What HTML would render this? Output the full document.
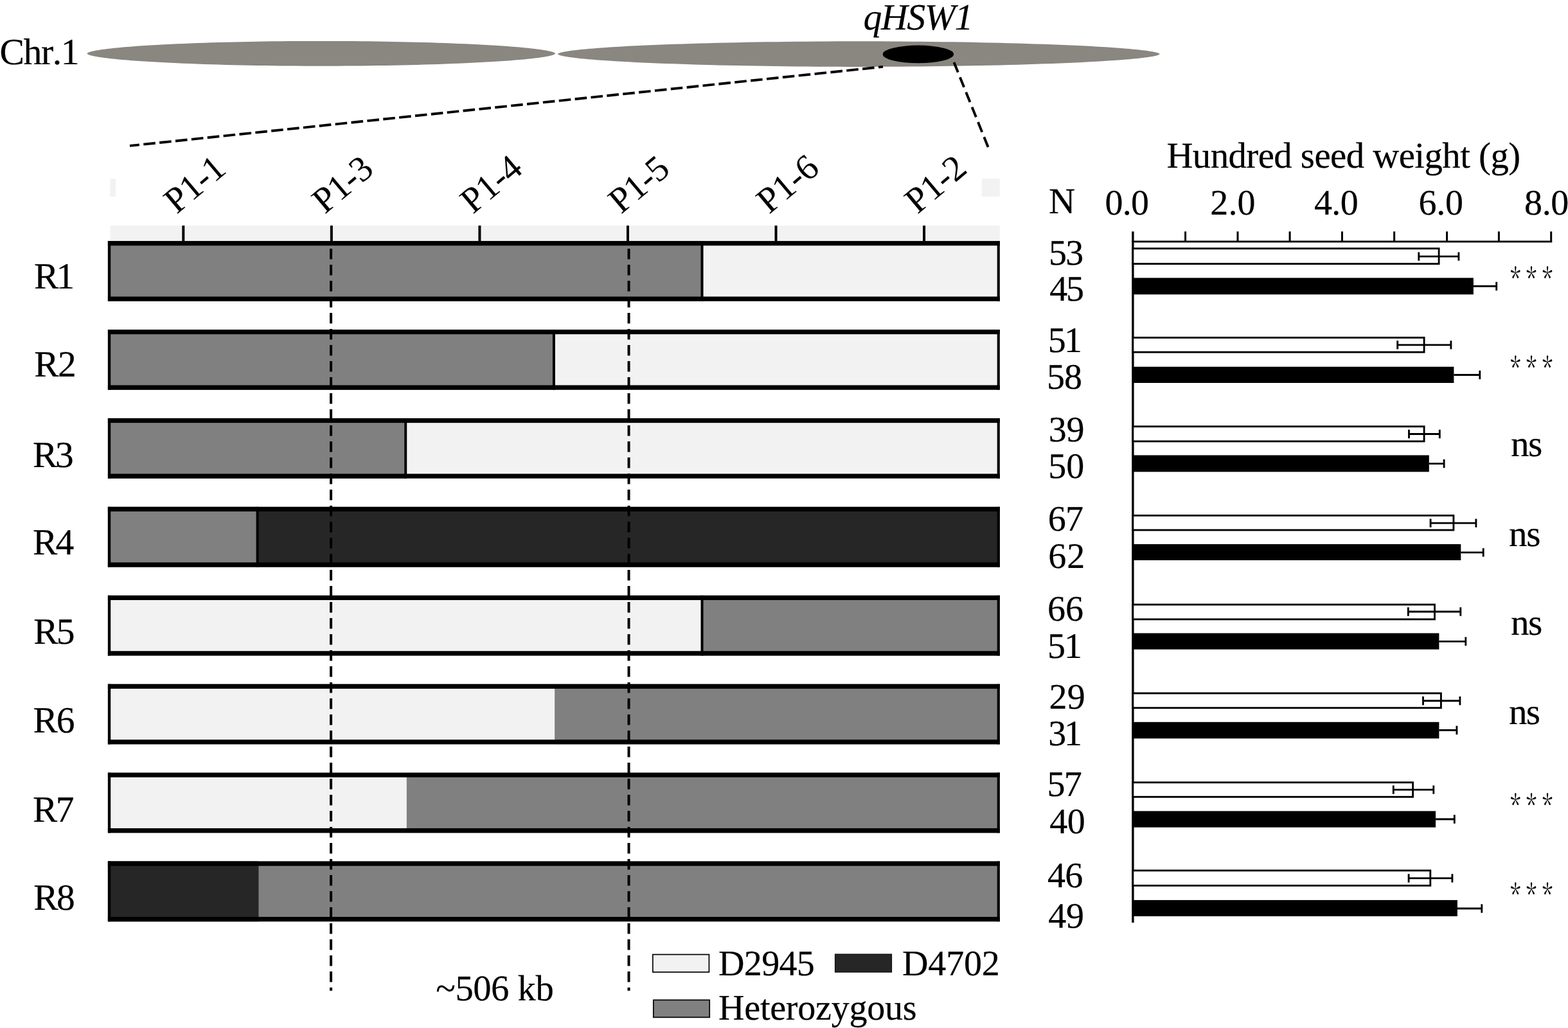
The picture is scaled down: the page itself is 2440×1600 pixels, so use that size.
<!DOCTYPE html>
<html lang="en"><head><meta charset="utf-8"><title>Fine mapping of qHSW1 on Chr.1</title>
<style>
html,body{margin:0;padding:0;background:#fff;}
body{width:2440px;height:1600px;overflow:hidden;}
svg{display:block;}
svg text{font-family:"Liberation Serif","DejaVu Serif",serif;fill:#000;stroke:#000;stroke-width:0.2px;font-kerning:none;white-space:pre;text-rendering:geometricPrecision;}
svg text.ast{font-family:"Noto Serif CJK SC","Liberation Serif",serif;stroke-width:0;}
svg text.rot{stroke-width:0.05px;}
</style></head><body>
<svg width="2440" height="1600" viewBox="0 0 2440 1600">
<rect width="2440" height="1600" fill="#fff"/>
<path d="M135.6 83.30L135.8 82.80L136.5 82.24L137.6 81.65L139.1 81.04L141.1 80.42L143.6 79.80L146.4 79.17L149.7 78.54L153.4 77.91L157.6 77.28L162.1 76.65L167.1 76.02L172.5 75.40L178.2 74.79L184.4 74.19L190.9 73.59L197.9 73.00L205.2 72.43L212.8 71.87L220.8 71.32L229.1 70.78L237.8 70.26L246.8 69.75L256.1 69.26L265.7 68.79L275.6 68.34L285.7 67.90L296.1 67.49L306.8 67.09L317.7 66.72L328.8 66.36L340.1 66.03L351.7 65.72L363.4 65.43L375.2 65.17L387.3 64.93L399.4 64.72L411.7 64.53L424.1 64.36L436.6 64.22L449.1 64.11L461.7 64.02L474.4 63.95L487.1 63.91L499.8 63.90L512.5 63.91L525.2 63.95L537.9 64.02L550.5 64.11L563.0 64.22L575.5 64.36L587.9 64.53L600.2 64.72L612.3 64.93L624.4 65.17L636.2 65.43L647.9 65.72L659.5 66.03L670.8 66.36L681.9 66.72L692.8 67.09L703.5 67.49L713.9 67.90L724.0 68.34L733.9 68.79L743.5 69.26L752.8 69.75L761.8 70.26L770.5 70.78L778.8 71.32L786.8 71.87L794.4 72.43L801.7 73.00L808.7 73.59L815.2 74.19L821.4 74.79L827.1 75.40L832.5 76.02L837.5 76.65L842.0 77.28L846.2 77.91L849.9 78.54L853.2 79.17L856.0 79.80L858.5 80.42L860.5 81.04L862.0 81.65L863.1 82.24L863.8 82.80L864.0 83.30L863.8 83.80L863.1 84.36L862.0 84.95L860.5 85.56L858.5 86.18L856.0 86.80L853.2 87.43L849.9 88.06L846.2 88.69L842.0 89.32L837.5 89.95L832.5 90.58L827.1 91.20L821.4 91.81L815.2 92.41L808.7 93.01L801.7 93.60L794.4 94.17L786.8 94.73L778.8 95.28L770.5 95.82L761.8 96.34L752.8 96.85L743.5 97.34L733.9 97.81L724.0 98.26L713.9 98.70L703.5 99.11L692.8 99.51L681.9 99.88L670.8 100.24L659.5 100.57L647.9 100.88L636.2 101.17L624.4 101.43L612.3 101.67L600.2 101.88L587.9 102.07L575.5 102.24L563.0 102.38L550.5 102.49L537.9 102.58L525.2 102.65L512.5 102.69L499.8 102.70L487.1 102.69L474.4 102.65L461.7 102.58L449.1 102.49L436.6 102.38L424.1 102.24L411.7 102.07L399.4 101.88L387.3 101.67L375.2 101.43L363.4 101.17L351.7 100.88L340.1 100.57L328.8 100.24L317.7 99.88L306.8 99.51L296.1 99.11L285.7 98.70L275.6 98.26L265.7 97.81L256.1 97.34L246.8 96.85L237.8 96.34L229.1 95.82L220.8 95.28L212.8 94.73L205.2 94.17L197.9 93.60L190.9 93.01L184.4 92.41L178.2 91.81L172.5 91.20L167.1 90.58L162.1 89.95L157.6 89.32L153.4 88.69L149.7 88.06L146.4 87.43L143.6 86.80L141.1 86.18L139.1 85.56L137.6 84.95L136.5 84.36L135.8 83.80Z" fill="#8a8680"/>
<path d="M868.1 84.10L868.4 83.59L869.2 83.01L870.7 82.41L872.7 81.79L875.2 81.16L878.3 80.53L882.0 79.88L886.2 79.24L891.0 78.60L896.3 77.95L902.2 77.31L908.6 76.67L915.5 76.04L922.9 75.42L930.8 74.80L939.2 74.19L948.1 73.59L957.5 73.01L967.4 72.43L977.6 71.87L988.4 71.32L999.5 70.79L1011.1 70.27L1023.0 69.77L1035.3 69.29L1048.0 68.83L1061.1 68.38L1074.5 67.96L1088.2 67.56L1102.2 67.17L1116.5 66.81L1131.1 66.47L1145.9 66.16L1160.9 65.87L1176.2 65.60L1191.6 65.35L1207.2 65.13L1223.0 64.94L1239.0 64.77L1255.0 64.63L1271.1 64.51L1287.4 64.42L1303.6 64.35L1320.0 64.31L1336.3 64.30L1352.6 64.31L1369.0 64.35L1385.2 64.42L1401.5 64.51L1417.6 64.63L1433.6 64.77L1449.6 64.94L1465.4 65.13L1481.0 65.35L1496.4 65.60L1511.7 65.87L1526.7 66.16L1541.5 66.47L1556.1 66.81L1570.4 67.17L1584.4 67.56L1598.1 67.96L1611.5 68.38L1624.6 68.83L1637.3 69.29L1649.6 69.77L1661.5 70.27L1673.1 70.79L1684.2 71.32L1695.0 71.87L1705.2 72.43L1715.1 73.01L1724.5 73.59L1733.4 74.19L1741.8 74.80L1749.7 75.42L1757.1 76.04L1764.0 76.67L1770.4 77.31L1776.3 77.95L1781.6 78.60L1786.4 79.24L1790.6 79.88L1794.3 80.53L1797.4 81.16L1799.9 81.79L1801.9 82.41L1803.4 83.01L1804.2 83.59L1804.5 84.10L1804.2 84.61L1803.4 85.19L1801.9 85.79L1799.9 86.41L1797.4 87.04L1794.3 87.67L1790.6 88.32L1786.4 88.96L1781.6 89.60L1776.3 90.25L1770.4 90.89L1764.0 91.53L1757.1 92.16L1749.7 92.78L1741.8 93.40L1733.4 94.01L1724.5 94.61L1715.1 95.19L1705.2 95.77L1695.0 96.33L1684.2 96.88L1673.1 97.41L1661.5 97.93L1649.6 98.43L1637.3 98.91L1624.6 99.37L1611.5 99.82L1598.1 100.24L1584.4 100.64L1570.4 101.03L1556.1 101.39L1541.5 101.73L1526.7 102.04L1511.7 102.33L1496.4 102.60L1481.0 102.85L1465.4 103.07L1449.6 103.26L1433.6 103.43L1417.6 103.57L1401.5 103.69L1385.2 103.78L1369.0 103.85L1352.6 103.89L1336.3 103.90L1320.0 103.89L1303.6 103.85L1287.4 103.78L1271.1 103.69L1255.0 103.57L1239.0 103.43L1223.0 103.26L1207.2 103.07L1191.6 102.85L1176.2 102.60L1160.9 102.33L1145.9 102.04L1131.1 101.73L1116.5 101.39L1102.2 101.03L1088.2 100.64L1074.5 100.24L1061.1 99.82L1048.0 99.37L1035.3 98.91L1023.0 98.43L1011.1 97.93L999.5 97.41L988.4 96.88L977.6 96.33L967.4 95.77L957.5 95.19L948.1 94.61L939.2 94.01L930.8 93.40L922.9 92.78L915.5 92.16L908.6 91.53L902.2 90.89L896.3 90.25L891.0 89.60L886.2 88.96L882.0 88.32L878.3 87.67L875.2 87.04L872.7 86.41L870.7 85.79L869.2 85.19L868.4 84.61Z" fill="#8a8680"/>
<ellipse cx="1428.9" cy="84.4" rx="55.2" ry="13.8" fill="#000"/>
<text x="-0.61 36.50 63.95 81.73 94.80" y="99.6" font-size="57.7">Chr.1</text>
<text x="1343.52" y="45.90" font-size="57.7" letter-spacing="-1.349" font-style="italic">qHSW1</text>
<line x1="202" y1="226.9" x2="1374" y2="103.9" stroke="#000" stroke-width="3.9" stroke-dasharray="18.6 6.4" stroke-dashoffset="3.6"/>
<line x1="1484.5" y1="96.9" x2="1538.4" y2="230.9" stroke="#000" stroke-width="3.9" stroke-dasharray="16.8 8.3"/>
<rect x="171.4" y="351.1" width="1384.4" height="26" fill="#f2f2f2"/>
<rect x="171.4" y="278" width="8.7" height="28" fill="#f2f2f2"/>
<rect x="1527.6" y="278" width="28.2" height="28" fill="#f2f2f2"/>
<rect x="283.30" y="351.1" width="4" height="31" fill="#000"/>
<text transform="translate(274.90,333.9) rotate(-40)" x="0" y="0" font-size="56" letter-spacing="-0.7" class="rot">P1-1</text>
<rect x="513.85" y="351.1" width="4" height="31" fill="#000"/>
<text transform="translate(505.45,333.9) rotate(-40)" x="0" y="0" font-size="56" letter-spacing="-1.0" class="rot">P1-3</text>
<rect x="744.40" y="351.1" width="4" height="31" fill="#000"/>
<text transform="translate(736.00,333.9) rotate(-40)" x="0" y="0" font-size="56" letter-spacing="-0.4" class="rot">P1-4</text>
<rect x="974.95" y="351.1" width="4" height="31" fill="#000"/>
<text transform="translate(966.55,333.9) rotate(-40)" x="0" y="0" font-size="56" letter-spacing="-1.0" class="rot">P1-5</text>
<rect x="1205.50" y="351.1" width="4" height="31" fill="#000"/>
<text transform="translate(1197.10,333.9) rotate(-40)" x="0" y="0" font-size="56" letter-spacing="-0.2" class="rot">P1-6</text>
<rect x="1436.05" y="351.1" width="4" height="31" fill="#000"/>
<text transform="translate(1427.65,333.9) rotate(-40)" x="0" y="0" font-size="56" letter-spacing="-0.5" class="rot">P1-2</text>
<rect x="167.90" y="375.10" width="1387.90" height="93.70" fill="#f2f2f2"/>
<rect x="167.90" y="375.10" width="924.60" height="93.70" fill="#808080"/>
<rect x="167.90" y="375.10" width="1387.90" height="7.2" fill="#000"/>
<rect x="167.90" y="461.60" width="1387.90" height="7.2" fill="#000"/>
<rect x="167.90" y="375.10" width="4.3" height="93.70" fill="#000"/>
<rect x="1551.70" y="375.10" width="4.1" height="93.70" fill="#000"/>
<rect x="1090.50" y="375.10" width="4" height="93.70" fill="#000"/>
<text x="52.88" y="449.40" font-size="57.5" letter-spacing="-3.756">R1</text>
<rect x="167.90" y="513.02" width="1387.90" height="93.70" fill="#f2f2f2"/>
<rect x="167.90" y="513.02" width="694.00" height="93.70" fill="#808080"/>
<rect x="167.90" y="513.02" width="1387.90" height="7.2" fill="#000"/>
<rect x="167.90" y="599.52" width="1387.90" height="7.2" fill="#000"/>
<rect x="167.90" y="513.02" width="4.3" height="93.70" fill="#000"/>
<rect x="1551.70" y="513.02" width="4.1" height="93.70" fill="#000"/>
<rect x="859.90" y="513.02" width="4" height="93.70" fill="#000"/>
<text x="53.18" y="586.20" font-size="57.5" letter-spacing="-1.644">R2</text>
<rect x="167.90" y="650.94" width="1387.90" height="93.70" fill="#f2f2f2"/>
<rect x="167.90" y="650.94" width="463.30" height="93.70" fill="#808080"/>
<rect x="167.90" y="650.94" width="1387.90" height="7.2" fill="#000"/>
<rect x="167.90" y="737.44" width="1387.90" height="7.2" fill="#000"/>
<rect x="167.90" y="650.94" width="4.3" height="93.70" fill="#000"/>
<rect x="1551.70" y="650.94" width="4.1" height="93.70" fill="#000"/>
<rect x="629.20" y="650.94" width="4" height="93.70" fill="#000"/>
<text x="51.08" y="727.40" font-size="57.5" letter-spacing="-3.306">R3</text>
<rect x="167.90" y="788.86" width="1387.90" height="93.70" fill="#262626"/>
<rect x="167.90" y="788.86" width="232.70" height="93.70" fill="#808080"/>
<rect x="167.90" y="788.86" width="1387.90" height="7.2" fill="#000"/>
<rect x="167.90" y="875.36" width="1387.90" height="7.2" fill="#000"/>
<rect x="167.90" y="788.86" width="4.3" height="93.70" fill="#000"/>
<rect x="1551.70" y="788.86" width="4.1" height="93.70" fill="#000"/>
<rect x="398.60" y="788.86" width="4" height="93.70" fill="#000"/>
<text x="51.08" y="863.40" font-size="57.5" letter-spacing="-3.044">R4</text>
<rect x="167.90" y="926.78" width="1387.90" height="93.70" fill="#808080"/>
<rect x="167.90" y="926.78" width="924.60" height="93.70" fill="#f2f2f2"/>
<rect x="167.90" y="926.78" width="1387.90" height="7.2" fill="#000"/>
<rect x="167.90" y="1013.28" width="1387.90" height="7.2" fill="#000"/>
<rect x="167.90" y="926.78" width="4.3" height="93.70" fill="#000"/>
<rect x="1551.70" y="926.78" width="4.1" height="93.70" fill="#000"/>
<rect x="1090.50" y="926.78" width="4" height="93.70" fill="#000"/>
<text x="52.27" y="1001.70" font-size="57.5" letter-spacing="-2.806">R5</text>
<rect x="167.90" y="1064.70" width="1387.90" height="93.70" fill="#808080"/>
<rect x="167.90" y="1064.70" width="695.20" height="93.70" fill="#f2f2f2"/>
<rect x="167.90" y="1064.70" width="1387.90" height="7.2" fill="#000"/>
<rect x="167.90" y="1151.20" width="1387.90" height="7.2" fill="#000"/>
<rect x="167.90" y="1064.70" width="4.3" height="93.70" fill="#000"/>
<rect x="1551.70" y="1064.70" width="4.1" height="93.70" fill="#000"/>
<text x="51.48" y="1139.80" font-size="57.5" letter-spacing="-2.181">R6</text>
<rect x="167.90" y="1202.62" width="1387.90" height="93.70" fill="#808080"/>
<rect x="167.90" y="1202.62" width="464.90" height="93.70" fill="#f2f2f2"/>
<rect x="167.90" y="1202.62" width="1387.90" height="7.2" fill="#000"/>
<rect x="167.90" y="1289.12" width="1387.90" height="7.2" fill="#000"/>
<rect x="167.90" y="1202.62" width="4.3" height="93.70" fill="#000"/>
<rect x="1551.70" y="1202.62" width="4.1" height="93.70" fill="#000"/>
<text x="51.08" y="1278.90" font-size="57.5" letter-spacing="-2.681">R7</text>
<rect x="167.90" y="1340.54" width="1387.90" height="93.70" fill="#808080"/>
<rect x="167.90" y="1340.54" width="234.50" height="93.70" fill="#262626"/>
<rect x="167.90" y="1340.54" width="1387.90" height="7.2" fill="#000"/>
<rect x="167.90" y="1427.04" width="1387.90" height="7.2" fill="#000"/>
<rect x="167.90" y="1340.54" width="4.3" height="93.70" fill="#000"/>
<rect x="1551.70" y="1340.54" width="4.1" height="93.70" fill="#000"/>
<text x="52.27" y="1415.50" font-size="57.5" letter-spacing="-2.550">R8</text>
<g stroke="#000" stroke-width="4" stroke-dasharray="16.6 8.4">
<line x1="515.05" y1="387" x2="515.05" y2="1542"/>
<line x1="978.5" y1="387" x2="978.5" y2="1542"/>
</g>
<text x="678.35" y="1557.30" font-size="56.5" letter-spacing="-0.435">~506 kb</text>
<rect x="1015.8" y="1485.6" width="87.6" height="27.4" fill="#f2f2f2" stroke="#000" stroke-width="1.7"/>
<rect x="1299.6" y="1485.2" width="87.8" height="27.8" fill="#262626" stroke="#111" stroke-width="1.4"/>
<rect x="1016.8" y="1556.4" width="87.4" height="27" fill="#808080" stroke="#000" stroke-width="1.7"/>
<text x="1118.12" y="1518.30" font-size="56" letter-spacing="-0.685">D2945</text>
<text x="1404.02" y="1518.30" font-size="56" letter-spacing="-0.150">D4702</text>
<text x="1118.12" y="1586.80" font-size="56" letter-spacing="-0.240">Heterozygous</text>
<text x="1815.40" y="261.40" font-size="56.8" letter-spacing="-0.559">Hundred seed weight (g)</text>
<text x="1631.99" y="332.20" font-size="57" letter-spacing="0.000">N</text>
<text x="1719.60" y="333.60" font-size="56" letter-spacing="-0.750">0.0</text>
<text x="1883.28" y="333.60" font-size="56" letter-spacing="0.160">2.0</text>
<text x="2044.88" y="333.60" font-size="56" letter-spacing="-0.590">4.0</text>
<text x="2207.62" y="333.60" font-size="56" letter-spacing="-0.360">6.0</text>
<text x="2372.00" y="333.60" font-size="56" letter-spacing="-0.350">8.0</text>
<rect x="1761.20" y="374.6" width="654.00" height="2.85" fill="#000"/>
<rect x="1761.20" y="360.3" width="3.4" height="1075.70" fill="#000"/>
<rect x="1843.10" y="360.3" width="3" height="16" fill="#000"/>
<rect x="1924.50" y="360.3" width="3" height="16" fill="#000"/>
<rect x="2005.60" y="360.3" width="3" height="16" fill="#000"/>
<rect x="2087.00" y="360.3" width="3" height="16" fill="#000"/>
<rect x="2168.15" y="360.3" width="3" height="16" fill="#000"/>
<rect x="2250.10" y="360.3" width="3" height="16" fill="#000"/>
<rect x="2330.90" y="360.3" width="3" height="16" fill="#000"/>
<rect x="2412.20" y="360.3" width="3" height="16" fill="#000"/>
<rect x="1762.90" y="386.80" width="476.20" height="23.80" fill="#fff" stroke="#000" stroke-width="2.85"/>
<rect x="1762.90" y="432.50" width="530.00" height="25.80" fill="#000"/>
<path d="M2207.8 392.4V405.8M2207.8 399.1H2269.9M2269.9 392.4V405.8" stroke="#000" stroke-width="2.85" fill="none"/>
<path d="M2292.9 445.5H2328.7M2328.7 438.8V452.2" stroke="#000" stroke-width="2.85" fill="none"/>
<text class="ast" transform="translate(2350.30,450.67) scale(0.838,1.125)" x="0" y="0" font-size="40" letter-spacing="10.47">***</text>
<rect x="1762.90" y="525.50" width="453.20" height="22.60" fill="#fff" stroke="#000" stroke-width="2.85"/>
<rect x="1762.90" y="570.80" width="499.50" height="25.20" fill="#000"/>
<path d="M2174.7 530.2V543.6M2174.7 536.9H2257.9M2257.9 530.2V543.6" stroke="#000" stroke-width="2.85" fill="none"/>
<path d="M2262.4 583.5H2302.8M2302.8 576.8V590.2" stroke="#000" stroke-width="2.85" fill="none"/>
<text class="ast" transform="translate(2350.30,589.98) scale(0.838,1.125)" x="0" y="0" font-size="40" letter-spacing="10.47">***</text>
<rect x="1762.90" y="663.80" width="453.20" height="23.10" fill="#fff" stroke="#000" stroke-width="2.85"/>
<rect x="1762.90" y="708.50" width="460.90" height="25.90" fill="#000"/>
<path d="M2192.5 668.8V682.2M2192.5 675.5H2240.3M2240.3 668.8V682.2" stroke="#000" stroke-width="2.85" fill="none"/>
<path d="M2223.8 721.6H2247.1M2247.1 714.9V728.3" stroke="#000" stroke-width="2.85" fill="none"/>
<text x="2351.01" y="710.00" font-size="57.2" letter-spacing="-1.476">ns</text>
<rect x="1762.90" y="802.35" width="499.00" height="22.65" fill="#fff" stroke="#000" stroke-width="2.85"/>
<rect x="1762.90" y="846.90" width="510.40" height="25.10" fill="#000"/>
<path d="M2226.1 807.4V820.8M2226.1 814.1H2296.9M2296.9 807.4V820.8" stroke="#000" stroke-width="2.85" fill="none"/>
<path d="M2273.3 859.9H2308.2M2308.2 853.2V866.6" stroke="#000" stroke-width="2.85" fill="none"/>
<text x="2348.11" y="850.20" font-size="57.2" letter-spacing="-1.576">ns</text>
<rect x="1762.90" y="941.00" width="469.60" height="22.90" fill="#fff" stroke="#000" stroke-width="2.85"/>
<rect x="1762.90" y="985.50" width="476.50" height="25.25" fill="#000"/>
<path d="M2191.3 945.3V958.7M2191.3 952.0H2272.8M2272.8 945.3V958.7" stroke="#000" stroke-width="2.85" fill="none"/>
<path d="M2239.4 998.3H2280.8M2280.8 991.6V1005.0" stroke="#000" stroke-width="2.85" fill="none"/>
<text x="2351.01" y="988.30" font-size="57.2" letter-spacing="-1.476">ns</text>
<rect x="1762.90" y="1079.00" width="479.50" height="22.80" fill="#fff" stroke="#000" stroke-width="2.85"/>
<rect x="1762.90" y="1123.80" width="476.50" height="25.60" fill="#000"/>
<path d="M2214.5 1084.0V1097.4M2214.5 1090.7H2271.9M2271.9 1084.0V1097.4" stroke="#000" stroke-width="2.85" fill="none"/>
<path d="M2239.4 1136.5H2266.9M2266.9 1129.8V1143.2" stroke="#000" stroke-width="2.85" fill="none"/>
<text x="2348.11" y="1126.90" font-size="57.2" letter-spacing="-1.876">ns</text>
<rect x="1762.90" y="1217.80" width="435.70" height="22.50" fill="#fff" stroke="#000" stroke-width="2.85"/>
<rect x="1762.90" y="1262.35" width="471.20" height="25.40" fill="#000"/>
<path d="M2168.3 1222.4V1235.8M2168.3 1229.1H2230.8M2230.8 1222.4V1235.8" stroke="#000" stroke-width="2.85" fill="none"/>
<path d="M2234.1 1275.0H2263.3M2263.3 1268.3V1281.7" stroke="#000" stroke-width="2.85" fill="none"/>
<text class="ast" transform="translate(2350.30,1270.88) scale(0.838,1.125)" x="0" y="0" font-size="40" letter-spacing="10.47">***</text>
<rect x="1762.90" y="1354.90" width="462.90" height="23.45" fill="#fff" stroke="#000" stroke-width="2.85"/>
<rect x="1762.90" y="1400.90" width="505.00" height="25.20" fill="#000"/>
<path d="M2192.1 1360.2V1373.6M2192.1 1366.9H2259.9M2259.9 1360.2V1373.6" stroke="#000" stroke-width="2.85" fill="none"/>
<path d="M2267.9 1414.0H2305.8M2305.8 1407.3V1420.7" stroke="#000" stroke-width="2.85" fill="none"/>
<text class="ast" transform="translate(2350.30,1409.98) scale(0.838,1.125)" x="0" y="0" font-size="40" letter-spacing="10.47">***</text>
<text x="1632.08" y="412.00" font-size="56" letter-spacing="-1.940">53</text>
<text x="1633.18" y="468.40" font-size="56" letter-spacing="-2.140">45</text>
<text x="1630.78" y="547.90" font-size="56" letter-spacing="-2.820">51</text>
<text x="1629.08" y="604.70" font-size="56" letter-spacing="-1.080">58</text>
<text x="1631.74" y="687.30" font-size="56" letter-spacing="-0.300">39</text>
<text x="1631.18" y="744.40" font-size="56" letter-spacing="0.120">50</text>
<text x="1630.82" y="826.40" font-size="56" letter-spacing="-0.840">67</text>
<text x="1631.32" y="883.90" font-size="56" letter-spacing="0.960">62</text>
<text x="1629.92" y="966.40" font-size="56" letter-spacing="0.060">66</text>
<text x="1629.98" y="1023.70" font-size="56" letter-spacing="-2.020">51</text>
<text x="1632.38" y="1102.60" font-size="56" letter-spacing="0.460">29</text>
<text x="1631.34" y="1159.80" font-size="56" letter-spacing="-3.380">31</text>
<text x="1629.48" y="1238.60" font-size="56" letter-spacing="-1.600">57</text>
<text x="1633.28" y="1296.80" font-size="56" letter-spacing="-0.580">40</text>
<text x="1629.98" y="1380.70" font-size="56" letter-spacing="-0.700">46</text>
<text x="1631.18" y="1443.80" font-size="56" letter-spacing="-0.140">49</text>
</svg>
</body></html>
